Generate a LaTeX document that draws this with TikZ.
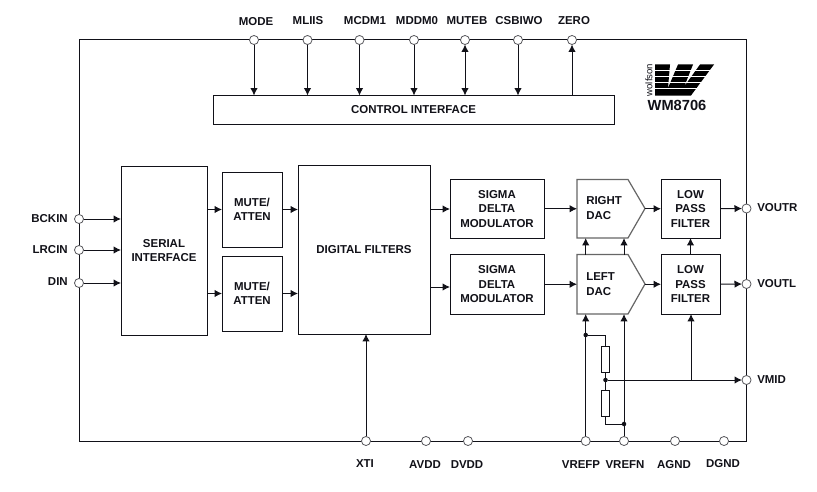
\documentclass[tikz,border=0pt]{standalone}
\usepackage{fontspec}
\setmainfont{Liberation Sans}
\usetikzlibrary{arrows.meta,calc}
\definecolor{ink}{HTML}{111118}
\definecolor{dacline}{HTML}{666666}
\newcommand\blk[7][blockbox]{\node[#1,minimum width={(#5-#3)*0.75pt},minimum height={(#6-#4)*0.75pt}] (#2) at ({(#3+#5)/2},{(#4+#6)/2}) {#7};}
\tikzset{
  wire/.style={draw=ink,line width=0.75pt},
  sig/.style={wire,-{Latex[length=5.6pt,width=5.6pt]}},
  sigboth/.style={wire,{Latex[length=5.6pt,width=5.6pt]}-{Latex[length=5.6pt,width=5.6pt]}},
  blockbox/.style={draw=ink,line width=0.75pt,fill=white,inner sep=0pt,outer sep=0pt,align=center,text=ink,font=\fontsize{8.6}{10.9}\selectfont\bfseries},
  dacbody/.style={draw=none,inner sep=0pt,outer sep=0pt},
  dacshape/.style={draw=dacline,line width=0.9pt,fill=white,line join=miter},
  dactext/.style={inner sep=0pt,align=left,anchor=west,text=ink,font=\fontsize{8.6}{10.9}\selectfont\bfseries},
  pin/.style={circle,draw=ink!70,fill=white,line width=0.6pt,minimum size=6.8pt,inner sep=0pt,outer sep=0pt},
  pinlabel/.style={inner sep=0pt,text=ink,font=\fontsize{8.6}{10.5}\selectfont\bfseries},
  dot/.style={circle,fill=ink,minimum size=3.4pt,inner sep=0pt,outer sep=0pt},
  res/.style={draw=ink,line width=0.75pt,fill=white,inner sep=0pt,outer sep=0pt,minimum width=6pt,minimum height=19pt},
}
\begin{document}
\begin{tikzpicture}[x=0.75pt,y=-0.75pt]
\useasboundingbox (0,0) rectangle (817,492);
% frame
\draw[wire] (79,40) rectangle (746.5,441);
% pins
\foreach \n/\x in {mode/254,mliis/307.5,mcdm/359.5,mddm/414,muteb/465,csb/518,zero/572}
  \node[pin] (\n) at (\x,40) {};
\foreach \n/\y in {bck/219,lrc/250,din/283}
  \node[pin] (\n) at (79,\y) {};
\foreach \n/\y in {voutr/208.5,voutl/284,vmid/380}
  \node[pin] (\n) at (746.5,\y) {};
\foreach \n/\x in {xti/366,avdd/426,dvdd/468,vrefp/585.7,vrefn/624,agnd/675,dgnd/724}
  \node[pin] (\n) at (\x,441) {};
% blocks
\blk{ctrl}{213}{95.5}{614}{124}{CONTROL INTERFACE}
\blk{serial}{121}{166}{207}{335}{SERIAL\\INTERFACE}
\blk{muteone}{222}{172}{282}{247}{MUTE/\\ATTEN}
\blk{mutetwo}{222}{256}{282}{331}{MUTE/\\ATTEN}
\blk{digital}{298}{165}{430}{334}{DIGITAL FILTERS}
\blk{sdmone}{450}{179.5}{544}{238}{SIGMA\\DELTA\\MODULATOR}
\blk{sdmtwo}{450}{254.5}{544}{314}{SIGMA\\DELTA\\MODULATOR}
\blk{lpfone}{661}{179.5}{720}{238}{LOW\\PASS\\FILTER}
\blk{lpftwo}{661}{254.5}{720}{314}{LOW\\PASS\\FILTER}
% DACs
\draw[dacshape] (577,179.5) -- (628,179.5) -- (645,208.5) -- (628,238) -- (577,238) -- cycle;
\draw[dacshape] (577,254.5) -- (628,254.5) -- (645,284) -- (628,314) -- (577,314) -- cycle;
\blk[dacbody]{rdac}{577}{179.5}{645}{238}{}
\blk[dacbody]{ldac}{577}{254.5}{645}{314}{}
\node[dactext] (rdactext) at (586,208) {RIGHT\\DAC};
\node[dactext] (ldactext) at (586,284) {LEFT\\DAC};
% resistors and junctions
\node[res] (rone) at (605.5,359.5) {};
\node[res] (rtwo) at (605.5,403.5) {};
\node[dot] (jtop) at (585.7,335) {};
\node[dot] (jmid) at (605.5,380) {};
\node[dot] (jbot) at (624,424) {};
\coordinate (tap) at (691,380);
\coordinate (dfone) at (430,209);
\coordinate (dftwo) at (430,287);
% control pins
\draw[sig] (mode) -- (mode |- ctrl.north);
\draw[sig] (mliis) -- (mliis |- ctrl.north);
\draw[sig] (mcdm) -- (mcdm |- ctrl.north);
\draw[sig] (mddm) -- (mddm |- ctrl.north);
\draw[sigboth] (muteb) -- (muteb |- ctrl.north);
\draw[sig] (csb) -- (csb |- ctrl.north);
\draw[sig] (zero |- ctrl.north) -- (zero);
% serial path
\draw[sig] (bck) -- (bck -| serial.west);
\draw[sig] (lrc) -- (lrc -| serial.west);
\draw[sig] (din) -- (din -| serial.west);
\draw[sig] (serial.east |- muteone.west) -- (muteone.west);
\draw[sig] (serial.east |- mutetwo.west) -- (mutetwo.west);
\draw[sig] (muteone.east) -- (muteone.east -| digital.west);
\draw[sig] (mutetwo.east) -- (mutetwo.east -| digital.west);
\draw[sig] (dfone) -- (dfone -| sdmone.west);
\draw[sig] (dftwo) -- (dftwo -| sdmtwo.west);
\draw[sig] (sdmone.east) -- (rdac.west);
\draw[sig] (sdmtwo.east) -- (ldac.west);
\draw[sig] (rdac.east) -- (lpfone.west);
\draw[sig] (ldac.east) -- (lpftwo.west);
\draw[sig] (lpfone.east) -- (voutr);
\draw[sig] (lpftwo.east) -- (voutl);
\draw[sig] (lpftwo.north) -- (lpfone.south);
\draw[sig] (xti) -- (xti |- digital.south);
% reference
\draw[sig] (vrefp) -- (vrefp |- ldac.south);
\draw[sig] (vrefn) -- (vrefn |- ldac.south);
\draw[sig] (vrefp |- ldac.north) -- (vrefp |- rdac.south);
\draw[sig] (vrefn |- ldac.north) -- (vrefn |- rdac.south);
\draw[wire] (jtop) -- (jtop -| rone) -- (rone.north);
\draw[wire] (rone.south) -- (jmid);
\draw[wire] (jmid) -- (rtwo.north);
\draw[wire] (rtwo.south) |- (jbot);
\draw[sig] (jmid) -- (vmid);
\draw[sig] (tap) -- (tap |- lpftwo.south);
% labels
\foreach \t/\x/\y in {MODE/256/22,MLIIS/308/21,MCDM1/365/21,MDDM0/417/21,MUTEB/467/21,CSBIWO/519/21,ZERO/574/21,XTI/365/464,AVDD/425/465,DVDD/467/465,VREFP/581/465,VREFN/625/465,AGND/674/465,DGND/723/464}
  \node[pinlabel] (lab\t) at (\x,\y) {\t};
\node[pinlabel,anchor=east] (labB) at (68,219) {BCKIN};
\node[pinlabel,anchor=east] (labL) at (68,250) {LRCIN};
\node[pinlabel,anchor=east] (labD) at (68,282) {DIN};
\node[pinlabel,anchor=west] (labVR) at (757,208) {VOUTR};
\node[pinlabel,anchor=west] (labVL) at (757,284) {VOUTL};
\node[pinlabel,anchor=west] (labVM) at (757,380) {VMID};
% logo
\fill[black] (655,64.5) -- (670,64.5) -- (668,88) -- (678,64.5) -- (693,64.5) -- (684.5,86) -- (700,64.5) -- (714,64.5) -- (691,95.5) -- (655,95.5) -- cycle;
\foreach \y in {70,76,82,88}
  \draw[white,line width=0.35pt] (655,\y) -- (710,\y);
\node[rotate=90,inner sep=0pt,text=ink,font=\fontsize{7.2}{8}\selectfont] (wolfson) at (649,80) {wolfson};
\node[inner sep=0pt,text=ink,font=\fontsize{11}{12}\selectfont\bfseries] (part) at (677,105.5) {WM8706};
\end{tikzpicture}
\end{document}
